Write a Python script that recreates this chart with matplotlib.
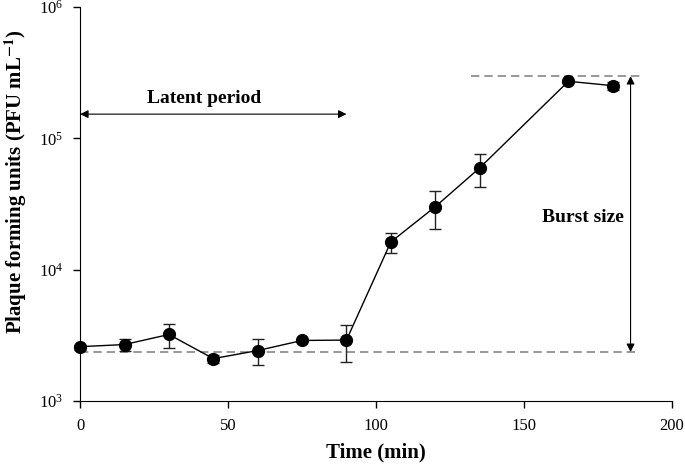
import matplotlib
matplotlib.use("Agg")
import matplotlib.pyplot as plt
import numpy as np

# one-step growth curve
time_min = [0, 15, 30, 45, 60, 75, 90, 105, 120, 135, 165, 180]
pfu = [2600, 2700, 3220, 2110, 2430, 2900, 2920, 16300, 30200, 59600, 272000, 252000]
err_hi = [2700, 3000, 3880, 2240, 3000, 3000, 3810, 19100, 40000, 76000, 280000, 270000]
err_lo = [2450, 2400, 2550, 1960, 1880, 2800, 2000, 13500, 20300, 42400, 264000, 234000]

plateau_low = 2370
plateau_high = 298000
latent_end = 90
latent_y = 153000

plt.rcParams['font.family'] = ['Liberation Serif', 'DejaVu Serif']
plt.rcParams['mathtext.fontset'] = 'stix'

fig = plt.figure(figsize=(6.85, 4.66), dpi=100)
ax = fig.add_axes([0.117, 0.139, 0.864, 0.846])

pfu_a = np.array(pfu)
yerr = [pfu_a - np.array(err_lo), np.array(err_hi) - pfu_a]
ax.errorbar(time_min, pfu, yerr=yerr, fmt='o-', color='black', ms=8.5,
            lw=1, elinewidth=1, capsize=4, capthick=1, ecolor='#222222',
            clip_on=False, zorder=3)

# plateau lines
ax.plot([0, 188], [plateau_low, plateau_low], ls=(0, (5, 3)), color='#888888', lw=1.2, zorder=1)
ax.plot([132, 190], [plateau_high, plateau_high], ls=(0, (5, 3)), color='#888888', lw=1.2, zorder=1)

# latent period arrow
ax.annotate('', xy=(0, latent_y), xytext=(latent_end, latent_y),
            arrowprops=dict(arrowstyle='<|-|>', color='black', lw=0.8,
                            mutation_scale=12, shrinkA=0, shrinkB=0))
ax.text(42, 200000, 'Latent period', fontsize=14, fontweight='bold',
        ha='center', va='center')

# burst size arrow
ax.annotate('', xy=(186, plateau_high), xytext=(186, plateau_low),
            arrowprops=dict(arrowstyle='<|-|>', color='black', lw=0.8,
                            mutation_scale=12, shrinkA=0, shrinkB=0))
ax.text(170, 25000, 'Burst size', fontsize=14, fontweight='bold',
        ha='center', va='center')

ax.set_yscale('log')
ax.set_ylim(1e3, 1e6)
ax.set_xlim(0, 200)
ax.set_xticks([0, 50, 100, 150, 200])
ax.minorticks_off()
ax.tick_params(direction='out', length=5, labelsize=12, width=1, pad=7)
ax.spines['top'].set_visible(False)
ax.spines['right'].set_visible(False)

ax.set_xlabel('Time (min)', fontsize=15, fontweight='bold', labelpad=6)
ax.set_ylabel(r'Plaque forming units (PFU mL$^{\mathbf{-1}}$)', fontsize=15,
              fontweight='bold')
ax.yaxis.set_label_coords(-0.087, 0.556)

fig.savefig('out.png', dpi=100)
